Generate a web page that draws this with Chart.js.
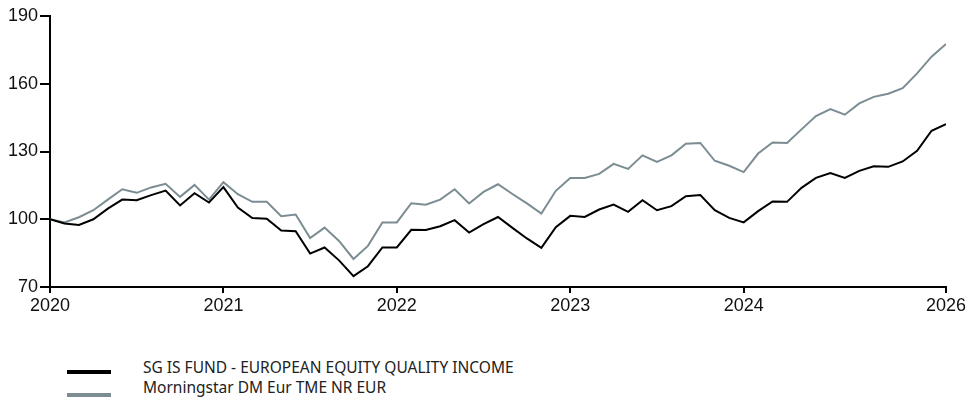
<!DOCTYPE html>
<html>
<head>
<meta charset="utf-8">
<script src="https://cdn.jsdelivr.net/npm/chart.js@4"></script>
<style>
  body { margin: 0; background: #fff; }
  #wrap { position: relative; width: 965px; height: 320px; }
  #legend { position: absolute; left: 67px; top: 357px; font-family: "Noto Sans", sans-serif; font-size: 15.5px; color: #222; }
  .item { position: relative; height: 20px; line-height: 20px; padding-left: 76px; white-space: nowrap; }
  .swatch { position: absolute; left: 0; width: 44px; height: 4px; }
</style>
</head>
<body>
<div id="wrap"><canvas id="chart" width="965" height="320"></canvas></div>
<div id="legend"></div>
<script>
const seriesNames = ["SG IS FUND - EUROPEAN EQUITY QUALITY INCOME", "Morningstar DM Eur TME NR EUR"];
const seriesColors = ["#000000", "#7b8d93"];

// monthly values, index 0 = start of 2020
const fundValues = [
  100, 98.1, 97.5, 100, 104.7, 108.7, 108.4, 110.7, 112.7, 106.1, 111.5, 107.4,
  114.2, 105.2, 100.5, 100.2, 95.0, 94.7, 84.8, 87.5, 81.8, 74.8, 79.2, 87.5,
  87.5, 95.3, 95.2, 96.9, 99.6, 94.1, 97.8, 101.0, 96.2, 91.5, 87.3, 96.5,
  101.5, 101.0, 104.3, 106.5, 103.3, 108.4, 104.0, 105.8, 110.2, 110.7, 104.0, 100.6,
  98.6, 103.6, 107.9, 107.7, 113.9, 118.3, 120.5, 118.3, 121.4, 123.5, 123.2, 125.6,
  130.3, 139.2, 142.1
];
const benchValues = [
  100, 98.6, 100.9, 104.0, 108.7, 113.3, 111.7, 114.1, 115.7, 109.9, 115.2, 108.7,
  116.4, 111.1, 107.7, 107.7, 101.3, 102.1, 91.7, 96.3, 90.4, 82.4, 88.2, 98.6,
  98.6, 107.1, 106.4, 108.7, 113.3, 107.0, 112.1, 115.5, 111.2, 107.0, 102.5, 112.6,
  118.3, 118.3, 120.1, 124.5, 122.3, 128.3, 125.4, 128.3, 133.4, 133.8, 125.9, 123.7,
  120.9, 129.1, 134.0, 133.8, 139.8, 145.7, 148.8, 146.3, 151.3, 154.2, 155.6, 158.0,
  164.6, 172.0, 177.6
];

const xTickPositions = [0, 12, 24, 36, 48, 62];
const xTickLabels = ["2020", "2021", "2022", "2023", "2024", "2026"];
const yTicks = [70, 100, 130, 160, 190];

const toPoints = (arr) => arr.map((v, i) => ({ x: i, y: v }));

const axisFont = { family: "'Liberation Sans', Arial, sans-serif", size: 18 };

new Chart(document.getElementById("chart"), {
  type: "line",
  data: {
    datasets: [
      { label: seriesNames[0], data: toPoints(fundValues), borderColor: seriesColors[0], borderWidth: 2, pointRadius: 0, tension: 0 },
      { label: seriesNames[1], data: toPoints(benchValues), borderColor: seriesColors[1], borderWidth: 2, pointRadius: 0, tension: 0 },
    ],
  },
  options: {
    responsive: false,
    animation: false,
    layout: { padding: { top: 16, right: 19, left: 0, bottom: 0 } },
    plugins: { legend: { display: false }, tooltip: { enabled: false } },
    scales: {
      x: {
        type: "linear",
        min: 0,
        max: 62,
        afterBuildTicks: (scale) => { scale.ticks = xTickPositions.map((v) => ({ value: v })); },
        afterFit: (scale) => {
          scale.height = 33;
          scale.paddingLeft = 0;
          scale.paddingRight = 0;
        },
        ticks: {
          autoSkip: false,
          maxRotation: 0,
          padding: 2,
          color: "#111",
          font: axisFont,
          callback: (v) => xTickLabels[xTickPositions.indexOf(v)],
        },
        grid: { drawOnChartArea: false, drawTicks: true, tickLength: 6, color: "#000", lineWidth: 2 },
        border: { color: "#000", width: 2 },
      },
      y: {
        min: 70,
        max: 190,
        afterBuildTicks: (scale) => { scale.ticks = yTicks.map((v) => ({ value: v })); },
        afterFit: (scale) => { scale.width = 50; },
        ticks: { padding: 2, color: "#111", font: axisFont },
        grid: { drawOnChartArea: false, drawTicks: true, tickLength: 10, color: "#000", lineWidth: 2 },
        border: { color: "#000", width: 2 },
      },
    },
  },
});

// legend built from the series
const swatchTops = [13, 16];
const legend = document.getElementById("legend");
seriesNames.forEach((name, i) => {
  const row = document.createElement("div");
  row.className = "item";
  row.innerHTML = `<span class="swatch" style="top:${swatchTops[i]}px;background:${seriesColors[i]}"></span><span>${name}</span>`;
  legend.appendChild(row);
});
</script>
</body>
</html>
